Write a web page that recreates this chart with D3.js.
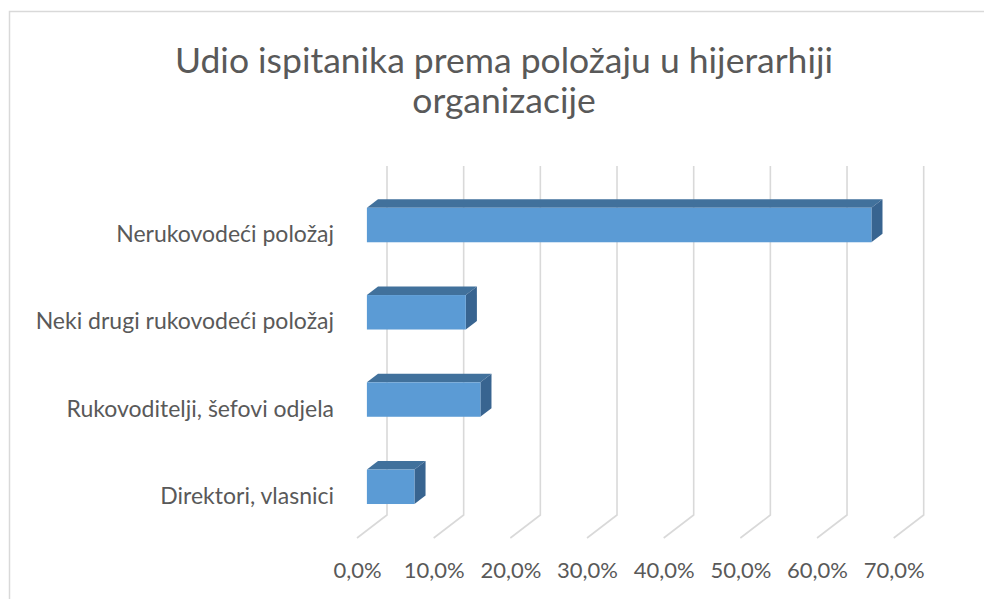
<!DOCTYPE html>
<html>
<head>
<meta charset="utf-8">
<script src="https://cdn.jsdelivr.net/npm/d3@7"></script>
<style>
  body { margin: 0; background: #fff; }
  svg { display: block; }
  .lbl text { font-family: Lato, "Open Sans", sans-serif; font-size: 22px; fill: #595959; }
  .cat text { font-size: 23px; }
  .grid-line { fill: none; stroke: #d9d9d9; stroke-width: 1.6; }
</style>
</head>
<body>
<svg class="chart" width="984" height="599"></svg>
<script>
const categories = ['Nerukovodeći položaj', 'Neki drugi rukovodeći položaj', 'Rukovoditelji, šefovi odjela', 'Direktori, vlasnici'];
const values = [0.658, 0.129, 0.148, 0.062];
const tickValues = [0, 0.1, 0.2, 0.3, 0.4, 0.5, 0.6, 0.7];
const titleLines = ['Udio ispitanika prema položaju u hijerarhiji', 'organizacije'];

const svg = d3.select('svg.chart');

// outer border of the chart area
svg.append('rect')
  .attr('x', 9.5).attr('y', 11.5)
  .attr('width', 990).attr('height', 600)
  .attr('fill', '#fff')
  .attr('stroke', '#d9d9d9')
  .attr('stroke-width', 1.5);

// title
svg.append('text')
  .attr('x', 504)
  .attr('text-anchor', 'middle')
  .style('font-family', 'Lato, "Open Sans", sans-serif')
  .style('font-size', '35.5px')
  .style('fill', '#595959')
  .selectAll('tspan')
  .data(titleLines)
  .enter()
  .append('tspan')
  .attr('x', 504)
  .attr('y', (d, i) => 73 + i * 40)
  .text((d) => d);

// front plane scales, depth goes up-right
const xScale = d3.scaleLinear().domain([0, 0.7]).range([357, 893.7]);
const yScale = d3.scaleBand()
  .domain(categories)
  .range([189, 538])
  .paddingInner(0.605)
  .paddingOuter(0.3025);
const depthX = 30, depthY = -23;
const proj = (x, y, z) => [x + depthX * z, y + depthY * z];

// gridlines: back wall plus floor
const yTop = yScale.range()[0], yBot = yScale.range()[1];
svg.append('g')
  .selectAll('path')
  .data(tickValues)
  .enter()
  .append('path')
  .attr('class', 'grid-line')
  .attr('d', (t) => d3.line()([
    proj(xScale(t), yTop, 1),
    proj(xScale(t), yBot, 1),
    proj(xScale(t), yBot, 0)
  ]));

// 3d bars
const z0 = 0.33, z1 = 0.7;
const bars = svg.append('g')
  .selectAll('g')
  .data(categories.map((c, i) => ({ name: c, value: values[i] })))
  .enter()
  .append('g');

bars.append('path') // top face
  .attr('fill', '#41719c')
  .attr('d', (d) => {
    const xa = xScale(0), xb = xScale(d.value), y = yScale(d.name);
    return d3.line()([proj(xa, y, z0), proj(xb, y, z0), proj(xb, y, z1), proj(xa, y, z1)]) + 'Z';
  });
bars.append('path') // side face
  .attr('fill', '#386490')
  .attr('d', (d) => {
    const xb = xScale(d.value), y = yScale(d.name), h = yScale.bandwidth();
    return d3.line()([proj(xb, y, z0), proj(xb, y, z1), proj(xb, y + h, z1), proj(xb, y + h, z0)]) + 'Z';
  });
bars.append('rect') // front face
  .attr('fill', '#5b9bd5')
  .attr('x', (d) => proj(xScale(0), 0, z0)[0])
  .attr('y', (d) => proj(0, yScale(d.name), z0)[1])
  .attr('width', (d) => xScale(d.value) - xScale(0))
  .attr('height', yScale.bandwidth());

// x axis labels
const fmt = d3.formatLocale({ decimal: ',', thousands: '.', grouping: [3], currency: ['', ' €'] }).format('.1%');
svg.append('g')
  .attr('class', 'lbl')
  .attr('transform', 'translate(0, 562)')
  .call(d3.axisBottom(xScale).tickValues(tickValues).tickFormat(fmt).tickSize(0).tickPadding(0))
  .call((g) => g.select('.domain').remove());

// category labels
svg.append('g')
  .attr('class', 'lbl cat')
  .attr('transform', 'translate(334, 2)')
  .call(d3.axisLeft(yScale).tickSize(0).tickPadding(0))
  .call((g) => g.select('.domain').remove());
</script>
</body>
</html>
